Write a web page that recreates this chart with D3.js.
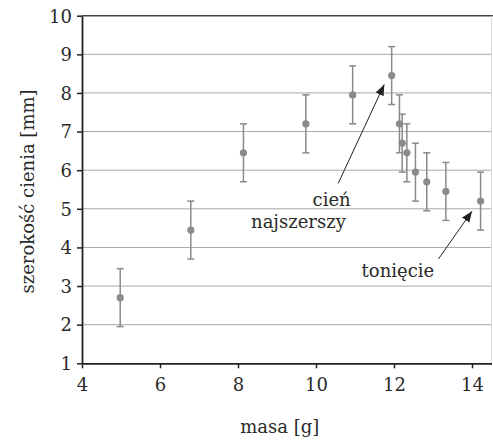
<html>
<head>
<meta charset="utf-8">
<title>szerokosc cienia</title>
<script src="https://d3js.org/d3.v7.min.js"></script>
<style>
  body { margin:0; padding:0; background:#fff; }
  svg text { font-family:"DejaVu Serif", serif; fill:#2a2a2a; }
</style>
</head>
<body>
<svg id="chart" width="493" height="444"></svg>
<script>
// masa [g]
var masa    = [4.98, 6.79, 8.14, 9.74, 10.94, 11.94, 12.14, 12.21, 12.33, 12.55, 12.84, 13.33, 14.22];
// szerokosc cienia [mm]
var szer    = [2.7, 4.45, 6.45, 7.2, 7.95, 8.45, 7.2, 6.7, 6.45, 5.95, 5.7, 5.45, 5.2];
var blad    = [0.75, 0.75, 0.75, 0.75, 0.75, 0.75, 0.75, 0.75, 0.75, 0.75, 0.75, 0.75, 0.75];
var xTicks  = [4, 6, 8, 10, 12, 14];
var yTicks  = [1, 2, 3, 4, 5, 6, 7, 8, 9, 10];
var notes   = [
  {lines:["cień", "najszerszy"], tx:[10.4, 9.55], ty:[5.06, 4.5], from:[10.57, 5.66], to:[11.75, 8.22]},
  {lines:["tonięcie"], tx:[12.1], ty:[3.23], from:[13.14, 3.7], to:[14.0, 4.94]}
];

var svg = d3.select('#chart');
var pLeft = 82, pRight = 491.5, pTop = 15.7, pBottom = 363.3;

var x = d3.scaleLinear().domain([4, 14.5]).range([pLeft, pRight]);
var y = d3.scaleLinear().domain([1, 10]).range([pBottom, pTop]);

svg.append('defs').append('marker')
  .attr('id', 'head')
  .attr('viewBox', '0 0 10 10')
  .attr('refX', 10).attr('refY', 5)
  .attr('markerWidth', 11).attr('markerHeight', 11)
  .attr('markerUnits', 'userSpaceOnUse')
  .attr('orient', 'auto')
  .append('path').attr('d', 'M0,1 L10,5 L0,9 z').attr('fill', '#222');

// gridlines
svg.append('g').selectAll('line')
  .data(yTicks.filter(function(d){ return d > 1 && d < 10; }))
  .enter().append('line')
  .attr('x1', pLeft).attr('x2', pRight)
  .attr('y1', function(d){ return y(d); }).attr('y2', function(d){ return y(d); })
  .attr('stroke', '#a8a8a8').attr('stroke-width', 1);

// top border
svg.append('line').attr('x1', pLeft).attr('x2', 493).attr('y1', pTop).attr('y2', pTop)
  .attr('stroke', '#444').attr('stroke-width', 1.5);
svg.append('line').attr('x1', pRight).attr('x2', pRight).attr('y1', pTop).attr('y2', pBottom)
  .attr('stroke', '#ddd').attr('stroke-width', 1);

// axes
var xAxis = svg.append('g').attr('transform', 'translate(0,' + pBottom + ')')
  .call(d3.axisBottom(x).tickValues(xTicks).tickSize(5).tickPadding(6).tickSizeOuter(0));
var yAxis = svg.append('g').attr('transform', 'translate(' + pLeft + ',0)')
  .call(d3.axisLeft(y).tickValues(yTicks).tickSize(5).tickPadding(5).tickSizeOuter(0));
[xAxis, yAxis].forEach(function(a){
  a.select('.domain').attr('stroke', '#222').attr('stroke-width', 1.8);
  a.selectAll('.tick line').attr('stroke', '#222').attr('stroke-width', 1.5);
  a.selectAll('.tick text').attr('font-family', '"DejaVu Serif", serif')
    .attr('font-size', 18).attr('fill', '#2a2a2a');
});
xAxis.selectAll('.tick text').attr('dy', '0.95em');
yAxis.selectAll('.tick text').attr('dy', '0.35em');

// axis titles
svg.append('text').attr('x', (pLeft + pRight) / 2 - 7).attr('y', 433)
  .attr('text-anchor', 'middle').attr('font-size', 18).text('masa [g]');
svg.append('text').attr('transform', 'translate(34,' + ((pTop + pBottom) / 2 + 2) + ') rotate(-90)')
  .attr('text-anchor', 'middle').attr('font-size', 18).text('szerokość cienia [mm]');

// error bars
var eb = svg.append('g').selectAll('g').data(masa).enter().append('g');
eb.append('line')
  .attr('x1', function(d){ return x(d); }).attr('x2', function(d){ return x(d); })
  .attr('y1', function(d, i){ return y(szer[i] - blad[i]); })
  .attr('y2', function(d, i){ return y(szer[i] + blad[i]); })
  .attr('stroke', '#8a8a8a').attr('stroke-width', 1.5);
[-1, 1].forEach(function(s){
  eb.append('line')
    .attr('x1', function(d){ return x(d) - 3.5; }).attr('x2', function(d){ return x(d) + 3.5; })
    .attr('y1', function(d, i){ return y(szer[i] + s * blad[i]); })
    .attr('y2', function(d, i){ return y(szer[i] + s * blad[i]); })
    .attr('stroke', '#8a8a8a').attr('stroke-width', 1.5);
});

// points
svg.append('g').selectAll('circle').data(masa).enter().append('circle')
  .attr('cx', function(d){ return x(d); })
  .attr('cy', function(d, i){ return y(szer[i]); })
  .attr('r', 3.6).attr('fill', '#8a8a8a');

// annotations
notes.forEach(function(n){
  svg.append('line')
    .attr('x1', x(n.from[0])).attr('y1', y(n.from[1]))
    .attr('x2', x(n.to[0])).attr('y2', y(n.to[1]))
    .attr('stroke', '#222').attr('stroke-width', 1)
    .attr('marker-end', 'url(#head)');
  n.lines.forEach(function(t, i){
    svg.append('text').attr('x', x(n.tx[i])).attr('y', y(n.ty[i]))
      .attr('text-anchor', 'middle').attr('font-size', 18).text(t);
  });
});
</script>
</body>
</html>
